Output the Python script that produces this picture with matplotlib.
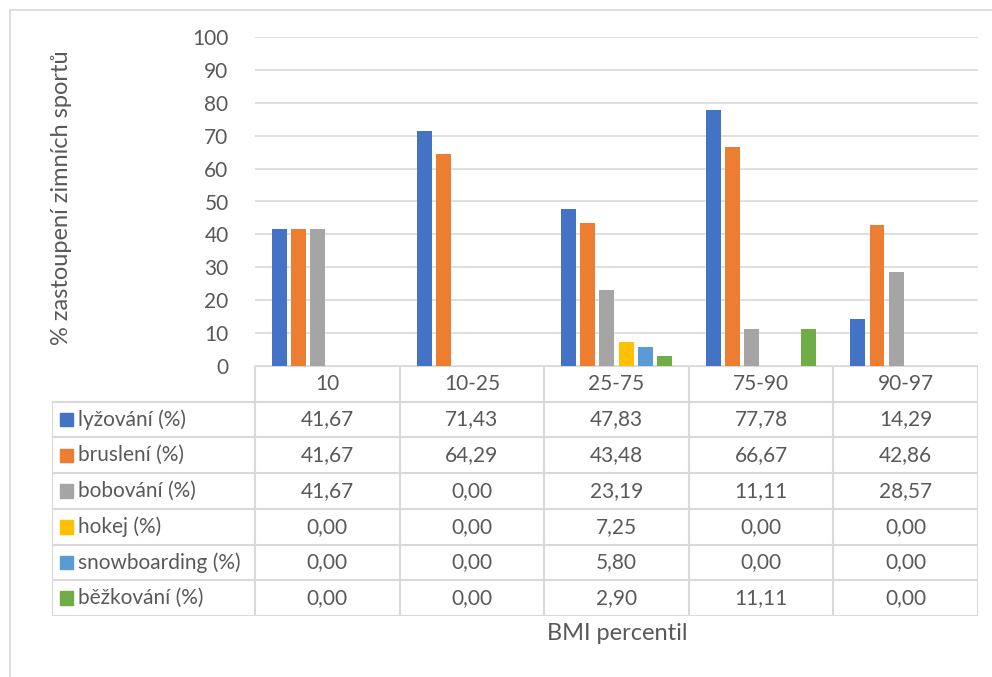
import numpy as np
import matplotlib.pyplot as plt

plt.rcParams['font.family'] = ['Lato', 'DejaVu Sans']

# BMI percentile groups and share of each winter sport (%)
categories = ['10', '10-25', '25-75', '75-90', '90-97']
series_names = ['lyžování (%)', 'bruslení (%)', 'bobování (%)',
                'hokej (%)', 'snowboarding (%)', 'běžkování (%)']
lyzovani = [41.67, 71.43, 47.83, 77.78, 14.29]
brusleni = [41.67, 64.29, 43.48, 66.67, 42.86]
bobovani = [41.67, 0.00, 23.19, 11.11, 28.57]
hokej = [0.00, 0.00, 7.25, 0.00, 0.00]
snowboarding = [0.00, 0.00, 5.80, 0.00, 0.00]
bezkovani = [0.00, 0.00, 2.90, 11.11, 0.00]
colors = ['#4472C4', '#ED7D31', '#A5A5A5', '#FFC000', '#5B9BD5', '#70AD47']

series = [lyzovani, brusleni, bobovani, hokej, snowboarding, bezkovani]
text_col = '#595959'
line_col = '#D9D9D9'
fs = 15
W, H = 992, 677

fig = plt.figure(figsize=(W / 100, H / 100), dpi=100)

def box(x0, y0, x1, y1):
    # pixel box (top-left origin) -> figure fraction rect
    return [x0 / W, 1 - y1 / H, (x1 - x0) / W, (y1 - y0) / H]

# outer chart border (top and left visible)
fig.add_artist(plt.Line2D([10 / W, 1], [1 - 10 / H, 1 - 10 / H], color=line_col, lw=1.2))
fig.add_artist(plt.Line2D([10 / W, 10 / W], [0, 1 - 10 / H], color=line_col, lw=1.2))

# bar chart
ax = fig.add_axes(box(255, 37, 978, 366))
x = np.arange(len(categories))
step, width = 0.1324, 0.1034
for i, (vals, c) in enumerate(zip(series, colors)):
    ax.bar(x + (i - 2.5) * step, vals, width=width, color=c, zorder=3)
ax.set_xlim(-0.5, len(categories) - 0.5)
ax.set_ylim(0, 100)
ax.set_yticks(range(0, 101, 10))
ax.yaxis.grid(True, color=line_col, lw=1.2, zorder=0)
ax.set_xticks([])
for s in ax.spines.values():
    s.set_visible(False)
ax.tick_params(axis='y', length=0, pad=19, labelsize=fs, labelcolor=text_col)
fig.text(62 / W, 1 - 198 / H, '% zastoupení zimních sportů', rotation=90,
         ha='center', va='center', fontsize=17, color=text_col)

# data table underneath
tab = fig.add_axes(box(52, 366, 978, 616))
leg_w = (255 - 52) / ((978 - 255) / len(categories))
tab.set_xlim(-0.5 - leg_w, len(categories) - 0.5)
tab.set_ylim(7, 0)
tab.axis('off')
lk = dict(color=line_col, lw=1.5, solid_capstyle='butt')
tab.plot([-0.5, len(categories) - 0.5], [0, 0], **lk)
for r in range(1, 8):
    tab.plot([-0.5 - leg_w, len(categories) - 0.5], [r, r], **lk)
for k in range(len(categories) + 1):
    tab.plot([k - 0.5, k - 0.5], [0, 7], **lk)
tab.plot([-0.5 - leg_w, -0.5 - leg_w], [1, 7], **lk)

for j, cat in enumerate(categories):
    tab.text(j, 0.5, cat, ha='center', va='center', fontsize=fs, color=text_col)
for i, (name, vals, c) in enumerate(zip(series_names, series, colors)):
    y = i + 1.5
    tab.add_patch(plt.Rectangle((-0.5 - leg_w + 0.055, y - 0.19), 0.09, 0.38,
                                color=c, transform=tab.transData))
    tab.text(-0.5 - leg_w + 0.18, y, name, ha='left', va='center',
             fontsize=fs, color=text_col)
    for j, v in enumerate(vals):
        tab.text(j, y, f'{v:.2f}'.replace('.', ','), ha='center', va='center',
                 fontsize=fs, color=text_col)

fig.text(617 / W, 1 - 634 / H, 'BMI percentil', ha='center', va='center',
         fontsize=17, color=text_col)

fig.savefig('out.png', dpi=100)
